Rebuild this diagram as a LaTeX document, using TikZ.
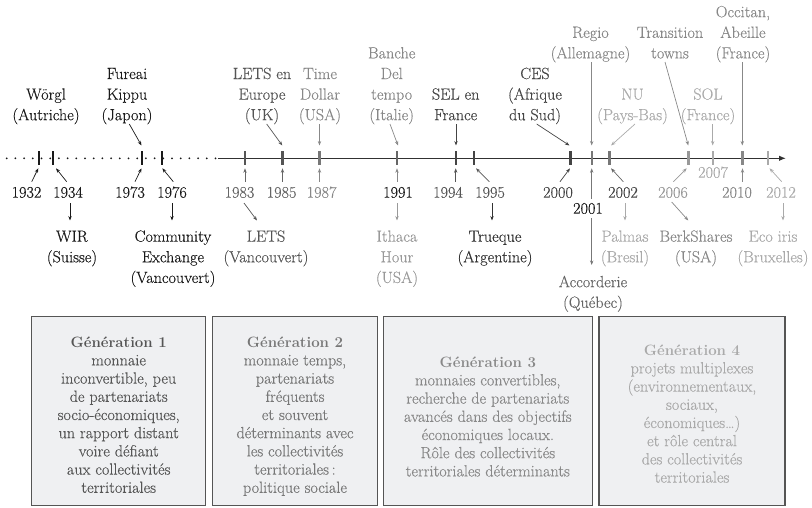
\documentclass[tikz,border=0pt]{standalone}
\usepackage{fontspec}
\setmainfont{Latin Modern Roman}[UprightFeatures={FakeBold=0.3}]
\usetikzlibrary{arrows.meta}
\definecolor{k0}{HTML}{1A1A1A}
\definecolor{g33}{HTML}{333333}
\definecolor{g44}{HTML}{444444}
\definecolor{g55}{HTML}{555555}
\definecolor{g66}{HTML}{666666}
\definecolor{g77}{HTML}{777777}
\definecolor{g88}{HTML}{888888}
\definecolor{g99}{HTML}{999999}
\definecolor{gaa}{HTML}{AAAAAA}
\definecolor{boxfill}{HTML}{EFF0F2}
\definecolor{boxline}{HTML}{555555}
\newcommand\genhead[1]{{\fontsize{15}{18.2}\selectfont\bfseries #1}}
\begin{document}
\begin{tikzpicture}[x=1pt,y=-1pt,
  lbl/.style={font=\fontsize{16.2}{20.6}\selectfont,align=center,inner sep=0pt,anchor=north,yshift=14.42pt},
  boxtxt/.style={font=\fontsize{16.2}{18.2}\selectfont,align=center,inner sep=0pt,anchor=north,yshift=12.74pt},
  genbox/.style={draw=boxline,fill=boxfill,line width=1.1pt},
  arr/.style={-{Stealth[length=4.5pt,width=3.4pt]},line width=0.7pt},
  tickmark/.style={line width=2.4pt}]
\useasboundingbox (0,0) rectangle (812,507);

% ---------- axis ----------
\draw[k0,line width=2pt,line cap=round,dash pattern=on 0pt off 8.7pt] (6.7,158.3) -- (216,158.3);
\draw[k0!90,line width=1.2pt,-{Latex[length=7pt,width=5.5pt]}] (218,158.3) -- (786,158.3);
\foreach \x/\c in {39/k0,52.7/k0,141.7/k0,161.7/k0,245/g55,282.5/g55,319.5/g77,397/g66,
  456/g44,474/g44,570.5/g44,591.7/g77,609.5/g77,688.5/g99,712.7/gaa,742.3/g88,767.7/gaa}
  \draw[tickmark,\c] (\x,151.3) -- (\x,165.3);

% ---------- labels above ----------
\node[lbl,k0]  (worgl)  at (46,99.4)   {\strut Wörgl\\(Autriche)};
\node[lbl,k0]  (fureai) at (127,78.8)  {\strut Fureai\\Kippu\\(Japon)};
\node[lbl,g55] (letseu) at (262,78.8)  {\strut LETS en\\Europe\\(UK)};
\node[lbl,g88] (timed)  at (320,78.8)  {\strut Time\\Dollar\\(USA)};
\node[lbl,g88] (banche) at (391.7,58.2){\strut Banche\\Del\\tempo\\(Italie)};
\node[lbl,g44] (sel)    at (455.7,99.4){\strut SEL en\\France};
\node[lbl,g44] (ces)    at (535,78.8)  {\strut CES\\(Afrique\\du Sud)};
\node[lbl,g88] (regio)  at (590.5,37.6){\strut Regio\\(Allemagne)};
\node[lbl,gaa] (nu)     at (632.5,99.4){\strut NU\\(Pays-Bas)};
\node[lbl,g88] (trans)  at (670,37.6)  {\strut Transition\\towns};
\node[lbl,gaa] (sol)    at (708,99.4)  {\strut SOL\\(France)};
\node[lbl,g88] (occ)    at (743,17)    {\strut Occitan,\\Abeille\\(France)};

% ---------- years ----------
\node[lbl,k0]  (y1932) at (26.5,197.5) {\strut 1932};
\node[lbl,k0]  (y1934) at (68,197.5)   {\strut 1934};
\node[lbl,k0]  (y1973) at (130,197.5)  {\strut 1973};
\node[lbl,k0]  (y1976) at (172,197.5)  {\strut 1976};
\node[lbl,g66] (y1983) at (239.5,197.5){\strut 1983};
\node[lbl,g66] (y1985) at (281.6,197.5){\strut 1985};
\node[lbl,g88] (y1987) at (321.6,197.5){\strut 1987};
\node[lbl,k0]  (y1991) at (398,197.5)  {\strut 1991};
\node[lbl,g55] (y1994) at (448,197.5)  {\strut 1994};
\node[lbl,g55] (y1995) at (490,197.5)  {\strut 1995};
\node[lbl,g44] (y2000) at (558,197.5)  {\strut 2000};
\node[lbl,k0]  (y2001) at (588,213.5)  {\strut 2001};
\node[lbl,g44] (y2002) at (623,197.5)  {\strut 2002};
\node[lbl,g99] (y2006) at (673,197.5)  {\strut 2006};
\node[lbl,gaa] (y2007) at (713,177.5)  {\strut 2007};
\node[lbl,g88] (y2010) at (737,197.5)  {\strut 2010};
\node[lbl,gaa] (y2012) at (781,197.5)  {\strut 2012};

% ---------- labels below ----------
\node[lbl,k0]  (wir)    at (72,241.5)  {\strut WIR\\(Suisse)};
\node[lbl,k0]  (commex) at (173,241.5) {\strut Community\\Exchange\\(Vancouvert)};
\node[lbl,g55] (letsva) at (266,241.5) {\strut LETS\\(Vancouvert)};
\node[lbl,g99] (ithaca) at (397,241.5) {\strut Ithaca\\Hour\\(USA)};
\node[lbl,g33] (trueq)  at (495,241.5) {\strut Trueque\\(Argentine)};
\node[lbl,g66] (accord) at (593,287)   {\strut Accorderie\\(Québec)};
\node[lbl,gaa] (palmas) at (625,241.5) {\strut Palmas\\(Bresil)};
\node[lbl,g88] (berk)   at (696,241.5) {\strut BerkShares\\(USA)};
\node[lbl,gaa] (ecoiris)at (773,241.5) {\strut Eco iris\\(Bruxelles)};

% ---------- arrows from labels above to ticks ----------
\coordinate (fureaiE) at (141.5,145.5); \coordinate (fureaiS) at (129.3,124);
\coordinate (letseuE) at (282.3,145.5); \coordinate (letseuS) at (266.7,124);
\coordinate (timedE)  at (319.5,145.5); \coordinate (timedS)  at (319.5,124);
\coordinate (bancheE) at (398,145.5);   \coordinate (bancheS) at (390,124);
\coordinate (selE)    at (456,145.5);   \coordinate (selS)    at (456,124);
\coordinate (cesE)    at (569.5,145.5); \coordinate (cesS)    at (536.7,124);
\coordinate (regioE)  at (591.7,145.5); \coordinate (regioS)  at (591.7,62);
\coordinate (nuE)     at (611,145.5);   \coordinate (nuS)     at (635,124);
\coordinate (transE)  at (688.3,145.5); \coordinate (transS)  at (665,62);
\coordinate (solE)    at (712.7,145.5); \coordinate (solS)    at (712.7,124);
\coordinate (occE)    at (742.3,145.5); \coordinate (occS)    at (742.3,62);
\draw[arr,k0]  (fureaiS) -- (fureaiE);
\draw[arr,g55] (letseuS) -- (letseuE);
\draw[arr,g88] (timedS)  -- (timedE);
\draw[arr,g88] (bancheS) -- (bancheE);
\draw[arr,g44] (selS)    -- (selE);
\draw[arr,g44] (cesS)    -- (cesE);
\draw[arr,g88] (regioS)  -- (regioE);
\draw[arr,gaa] (nuS)     -- (nuE);
\draw[arr,g88] (transS)  -- (transE);
\draw[arr,gaa] (solS)    -- (solE);
\draw[arr,g88] (occS)    -- (occE);

% ---------- arrows from years to ticks ----------
\coordinate (a1932S) at (31.7,181.7);  \coordinate (a1932E) at (38.3,168.3);
\coordinate (a1934S) at (66.7,181.7);  \coordinate (a1934E) at (56,168.3);
\coordinate (a1973S) at (135,181.7);   \coordinate (a1973E) at (141.5,168.3);
\coordinate (a1976S) at (173.3,181.7); \coordinate (a1976E) at (162.3,168.3);
\coordinate (a1983S) at (245,181.7);   \coordinate (a1983E) at (245,168.3);
\coordinate (a1985S) at (282.5,181.7); \coordinate (a1985E) at (282.5,168.3);
\coordinate (a1987S) at (319.5,181.7); \coordinate (a1987E) at (319.5,168.3);
\coordinate (a1991S) at (397,181.7);   \coordinate (a1991E) at (397,168.3);
\coordinate (a1994S) at (455.7,181.7); \coordinate (a1994E) at (455.7,168.3);
\coordinate (a1995S) at (489.3,181.7); \coordinate (a1995E) at (476,168.3);
\coordinate (a2000S) at (560,181.7);   \coordinate (a2000E) at (570,168.3);
\coordinate (a2001S) at (591.7,199);   \coordinate (a2001E) at (591.7,168.3);
\coordinate (a2002S) at (623.3,181.7); \coordinate (a2002E) at (611,168.3);
\coordinate (a2006S) at (673.3,181.7); \coordinate (a2006E) at (686.7,168.3);
\coordinate (a2010S) at (742.5,181.7); \coordinate (a2010E) at (742.5,168.3);
\coordinate (a2012S) at (781.7,181.7); \coordinate (a2012E) at (769.5,168.3);
\draw[arr,k0]  (a1932S) -- (a1932E);
\draw[arr,k0]  (a1934S) -- (a1934E);
\draw[arr,k0]  (a1973S) -- (a1973E);
\draw[arr,k0]  (a1976S) -- (a1976E);
\draw[arr,g66] (a1983S) -- (a1983E);
\draw[arr,g66] (a1985S) -- (a1985E);
\draw[arr,g88] (a1987S) -- (a1987E);
\draw[arr,g88] (a1991S) -- (a1991E);
\draw[arr,g55] (a1994S) -- (a1994E);
\draw[arr,g55] (a1995S) -- (a1995E);
\draw[arr,g44] (a2000S) -- (a2000E);
\draw[arr,g77] (a2001S) -- (a2001E);
\draw[arr,g66] (a2002S) -- (a2002E);
\draw[arr,g99] (a2006S) -- (a2006E);
\draw[arr,g88] (a2010S) -- (a2010E);
\draw[arr,gaa] (a2012S) -- (a2012E);

% ---------- arrows from years to labels below ----------
\coordinate (b1934S) at (70,203);    \coordinate (b1934E) at (70,220.5);
\coordinate (b1976S) at (172,203);   \coordinate (b1976E) at (172,220.5);
\coordinate (b1983S) at (244,203);   \coordinate (b1983E) at (257,220.5);
\coordinate (b1991S) at (397,203);   \coordinate (b1991E) at (397,220.5);
\coordinate (b1995S) at (492,203);   \coordinate (b1995E) at (492,220.5);
\coordinate (b2001S) at (591.7,218); \coordinate (b2001E) at (591.7,265);
\coordinate (b2002S) at (625,203);   \coordinate (b2002E) at (625,220.5);
\coordinate (b2006S) at (671.7,202); \coordinate (b2006E) at (688.3,220.5);
\coordinate (b2012S) at (783,203);   \coordinate (b2012E) at (783,220.5);
\draw[arr,k0]  (b1934S) -- (b1934E);
\draw[arr,k0]  (b1976S) -- (b1976E);
\draw[arr,g55] (b1983S) -- (b1983E);
\draw[arr,g99] (b1991S) -- (b1991E);
\draw[arr,g33] (b1995S) -- (b1995E);
\draw[arr,g77] (b2001S) -- (b2001E);
\draw[arr,gaa] (b2002S) -- (b2002E);
\draw[arr,g88] (b2006S) -- (b2006E);
\draw[arr,gaa] (b2012S) -- (b2012E);

% ---------- generation boxes ----------
\draw[genbox] (31.7,316.7) rectangle (205.7,505.5);
\draw[genbox] (212.3,316.7) rectangle (377.7,505.5);
\draw[genbox] (383.3,316.7) rectangle (592.3,505.5);
\draw[genbox] (599,316.7) rectangle (785,505.5);

\node[boxtxt,g55] (gen1) at (118.7,347) {\strut\genhead{Génération 1}\\monnaie\\inconvertible, peu\\de partenariats\\socio-économiques,\\un rapport distant\\voire défiant\\aux collectivités\\territoriales};
\node[boxtxt,g77] (gen2) at (295,347) {\strut\genhead{Génération 2}\\monnaie temps,\\partenariats\\fréquents\\et souvent\\déterminants avec\\les collectivités\\territoriales\,:\\politique sociale};
\node[boxtxt,g88] (gen3) at (487.8,367) {\strut\genhead{Génération 3}\\monnaies convertibles,\\recherche de partenariats\\avancés dans des objectifs\\économiques locaux.\\Rôle des collectivités\\territoriales déterminants};
\node[boxtxt,gaa] (gen4) at (692,355) {\strut\genhead{Génération 4}\\projets multiplexes\\(environnementaux,\\sociaux,\\économiques…)\\et rôle central\\des collectivités\\territoriales};
\end{tikzpicture}
\end{document}
